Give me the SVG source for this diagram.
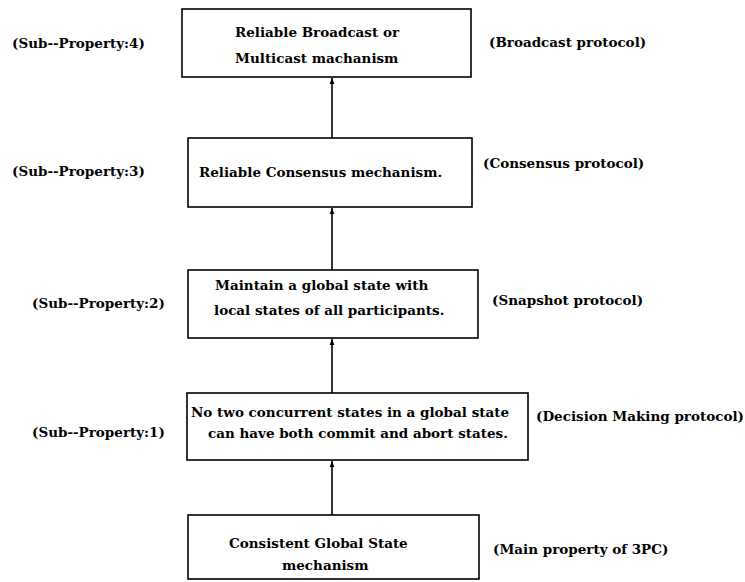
<svg xmlns="http://www.w3.org/2000/svg" width="745" height="582" viewBox="0 0 745 582">
  <defs>
    <style>
      .box { fill: #ffffff; stroke: #000000; stroke-width: 1.6; }
      .txt { font-family: "DejaVu Serif", "Liberation Serif", serif; font-weight: bold; font-size: 13.5px; fill: #000000; }
      .link { stroke: #000000; stroke-width: 1.6; fill: none; }
    </style>
    <marker id="head" viewBox="0 0 10 10" refX="10" refY="5" markerWidth="4" markerHeight="6" orient="auto" markerUnits="strokeWidth">
      <path d="M0,1 L10,5 L0,9 Z" fill="#000000"/>
    </marker>
  </defs>
  <rect width="745" height="582" fill="#ffffff"/>

  <!-- connectors: each level points up to the mechanism it relies on -->
  <g id="connectors">
    <line class="link" x1="332" y1="138" x2="332" y2="78" marker-end="url(#head)"/>
    <line class="link" x1="332" y1="270" x2="332" y2="208" marker-end="url(#head)"/>
    <line class="link" x1="332" y1="393" x2="332" y2="339" marker-end="url(#head)"/>
    <line class="link" x1="332" y1="515" x2="332" y2="461" marker-end="url(#head)"/>
  </g>

  <g id="broadcast">
    <rect class="box" x="182" y="9" width="289" height="68"/>
    <text class="txt" x="235" y="37">Reliable Broadcast or</text>
    <text class="txt" x="235" y="63">Multicast machanism</text>
    <text class="txt" x="12" y="48">(Sub--Property:4)</text>
    <text class="txt" x="489" y="47">(Broadcast protocol)</text>
  </g>

  <g id="consensus">
    <rect class="box" x="188" y="138" width="284" height="69"/>
    <text class="txt" x="199" y="177">Reliable Consensus mechanism.</text>
    <text class="txt" x="12" y="176">(Sub--Property:3)</text>
    <text class="txt" x="483" y="168">(Consensus protocol)</text>
  </g>

  <g id="snapshot">
    <rect class="box" x="188" y="270" width="290" height="68"/>
    <text class="txt" x="215" y="290">Maintain a global state with</text>
    <text class="txt" x="214" y="315">local states of all participants.</text>
    <text class="txt" x="32" y="308">(Sub--Property:2)</text>
    <text class="txt" x="492" y="305">(Snapshot protocol)</text>
  </g>

  <g id="decision">
    <rect class="box" x="187" y="393" width="341" height="67"/>
    <text class="txt" x="191" y="417">No two concurrent states in a global state</text>
    <text class="txt" x="208" y="438">can have both commit and abort states.</text>
    <text class="txt" x="32" y="437">(Sub--Property:1)</text>
    <text class="txt" x="536" y="421">(Decision Making protocol)</text>
  </g>

  <g id="consistent-state">
    <rect class="box" x="188" y="515" width="291" height="64"/>
    <text class="txt" x="229" y="548">Consistent Global State</text>
    <text class="txt" x="282" y="570">mechanism</text>
    <text class="txt" x="493" y="554">(Main property of 3PC)</text>
  </g>
</svg>
